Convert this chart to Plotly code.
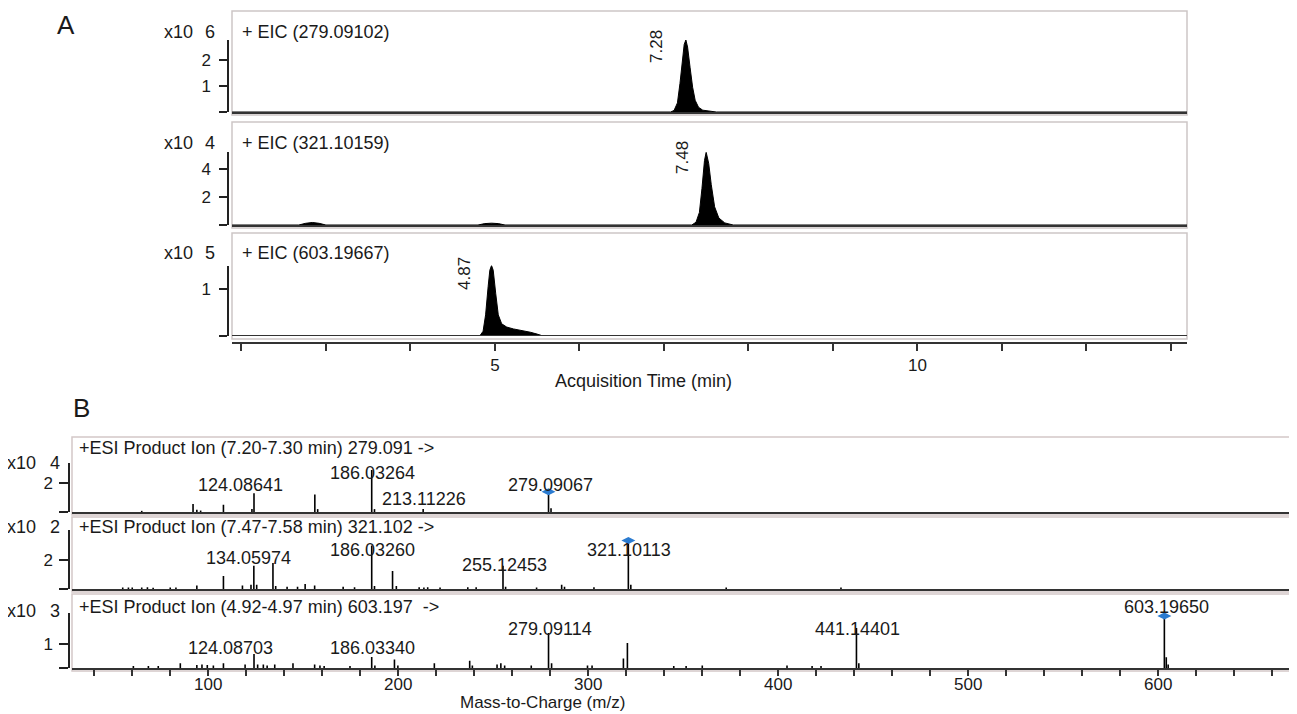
import plotly.graph_objects as go

# ---------------- DATA ----------------
# Panel A: extracted ion chromatograms (intensity in units of 10^exp)
eic_titles = ["+ EIC (279.09102)", "+ EIC (321.10159)", "+ EIC (603.19667)"]
eic_exponents = ["6", "4", "5"]
eic_rt_labels = ["7.28", "7.48", "4.87"]

eic1_time = [1.89, 7.08, 7.12, 7.16, 7.19, 7.22, 7.24, 7.26, 7.28, 7.31, 7.34, 7.37, 7.41, 7.46, 7.54, 7.62, 13.19]
eic1_int = [0, 0, 0.06, 0.35, 1.1, 2.1, 2.6, 2.77, 2.5, 1.7, 0.95, 0.45, 0.18, 0.07, 0.03, 0, 0]

eic2_time = [1.89, 2.68, 2.76, 2.84, 2.92, 3.0, 4.80, 4.88, 4.96, 5.04, 5.12,
             7.33, 7.38, 7.42, 7.45, 7.48, 7.50, 7.53, 7.56, 7.60, 7.65, 7.72, 7.82, 13.19]
eic2_int = [0, 0, 0.12, 0.18, 0.12, 0, 0, 0.1, 0.13, 0.1, 0,
            0, 0.2, 0.9, 2.6, 4.6, 5.2, 4.4, 2.9, 1.3, 0.5, 0.15, 0, 0]

eic3_time = [1.89, 4.82, 4.86, 4.89, 4.92, 4.94, 4.96, 4.98, 5.01, 5.04, 5.08, 5.14, 5.22, 5.32, 5.42, 5.50, 5.57, 13.19]
eic3_int = [0, 0, 0.1, 0.45, 1.05, 1.4, 1.5, 1.4, 0.9, 0.45, 0.26, 0.19, 0.15, 0.12, 0.08, 0.04, 0, 0]

eic_time = [eic1_time, eic2_time, eic3_time]
eic_int = [eic1_int, eic2_int, eic3_int]

eic_ymax = [2.77, 5.2, 1.5]
eic_yticks = [[0, 1, 2], [0, 2, 4], [0, 1]]

time_ticks = list(range(2, 14))
time_tick_labels = {5: "5", 10: "10"}

# Panel B: product ion spectra (intensity in units of 10^exp)
ms_titles = ["+ESI Product Ion (7.20-7.30 min) 279.091 ->",
             "+ESI Product Ion (7.47-7.58 min) 321.102 ->",
             "+ESI Product Ion (4.92-4.97 min) 603.197  ->"]
ms_exponents = ["4", "2", "3"]

ms1_mz = [65.0, 92.0, 94.0, 96.0, 108.0, 123.0, 124.08641, 156.1, 157.6, 186.03264, 187.5, 213.11226, 279.09067, 280.4]
ms1_int = [0.08, 0.55, 0.15, 0.1, 0.5, 0.2, 1.3, 1.2, 0.2, 2.9, 0.2, 0.2, 1.4, 0.25]

ms2_mz = [55, 58, 60, 65, 68, 71, 80, 83, 94, 108, 118, 122.5, 124.0, 125.5, 134.05974, 135.5,
          141.5, 147, 151, 156, 171, 177, 186.03260, 187.5, 197, 199, 211, 213.5, 215.5, 222,
          236.6, 241, 255.12453, 256.5, 272.8, 286, 287.5, 303, 321.10113, 322.4, 372.6, 433]
ms2_int = [0.1, 0.1, 0.1, 0.1, 0.12, 0.08, 0.1, 0.1, 0.25, 0.9, 0.25, 0.3, 1.6, 0.3, 1.8, 0.2,
           0.15, 0.15, 0.35, 0.25, 0.15, 0.12, 3.0, 0.2, 1.25, 0.2, 0.12, 0.1, 0.12, 0.1,
           0.12, 0.12, 1.6, 0.15, 0.1, 0.3, 0.15, 0.12, 3.35, 0.3, 0.1, 0.1]

ms3_mz = [60.6, 68.5, 73.7, 85.3, 94, 96.7, 99.5, 102.7, 108, 119.4, 124.08703, 126, 129, 131, 135,
          144.6, 156, 158.8, 161, 174.6, 186.03340, 187.7, 198, 199.8, 219, 237.6, 239, 252, 254, 256,
          270, 279.09114, 280.7, 299.6, 302, 318.5, 320.6, 345, 351.5, 360, 404.6, 417.8, 422.5,
          441.14401, 442.4, 603.19650, 604.2, 605.2]
ms3_int = [0.08, 0.08, 0.08, 0.2, 0.12, 0.15, 0.12, 0.1, 0.2, 0.15, 0.58, 0.15, 0.15, 0.1, 0.15,
           0.2, 0.15, 0.1, 0.08, 0.08, 0.46, 0.1, 0.35, 0.1, 0.2, 0.3, 0.1, 0.15, 0.2, 0.1,
           0.1, 1.46, 0.2, 0.1, 0.1, 0.4, 1.04, 0.08, 0.08, 0.1, 0.1, 0.08, 0.08,
           1.67, 0.2, 2.17, 0.45, 0.15]

ms_mz = [ms1_mz, ms2_mz, ms3_mz]
ms_int = [ms1_int, ms2_int, ms3_int]

precursor_mz = [279.09067, 321.10113, 603.19650]
precursor_int = [1.4, 3.35, 2.17]

ms_peak_labels = [["124.08641", "186.03264", "213.11226", "279.09067"],
                  ["134.05974", "186.03260", "255.12453", "321.10113"],
                  ["124.08703", "186.03340", "279.09114", "441.14401", "603.19650"]]

ms_ymax = [3.4, 4.1, 2.3]
ms_yticks = [[0, 2], [0, 2], [0, 1]]

mz_ticks = list(range(40, 680, 20))
mz_tick_labels = {100: "100", 200: "200", 300: "300", 400: "400", 500: "500", 600: "600"}

# ---------------- LAYOUT CONSTANTS (pixels of the 1297x714 page) ----------------
OFF = 8                      # default page margin of the html body
W, H = 1297 - OFF, 714 - OFF
FONT = "Liberation Sans, Arial, Helvetica, sans-serif"
TXT = "#1a1a1a"


def pxx(p):
    return (p - OFF) / W


def pyy(p):
    return 1 - (p - OFF) / H


A_left, A_right, A_spine = 232, 1187, 228
A_base = [112, 225, 336]
A_top = [11, 122, 233]
A_scale = [26, 14, 47]
A_title_y = [32, 143, 253]
A_rt_pos = [(656, 47), (683, 158), (464, 274)]
A_axis_y = 343

B_left, B_right, B_spine = 72, 1297, 69
B_base = [512, 589, 668]
B_top = [437, 517, 594]
B_scale = [14.5, 14.5, 24]
B_title_y = [448, 527, 607]
B_exp_y = [463, 527, 611]
B_label_pos = [[(240, 485), (373, 473), (424, 499), (550, 485)],
               [(248, 558), (373, 550), (504, 565), (629, 550)],
               [(230, 648), (373, 648), (550, 629), (857, 629), (1166, 607)]]

A_xrange = [1.889, 13.19]
B_xrange = [28.3, 673.0]

fig = go.Figure()
shapes = []
annotations = []
layout = {}


def ax_name(kind, i):
    return kind + ("" if i == 1 else str(i))


def text_ann(x, y, text, size=18, xanchor="center", yanchor="middle", angle=0):
    return dict(x=pxx(x), y=pyy(y), xref="paper", yref="paper", text=text, showarrow=False,
                xanchor=xanchor, yanchor=yanchor, textangle=angle,
                font=dict(family=FONT, size=size, color=TXT))


# ---- Panel A ----
for k in range(3):
    i = k + 1
    xa, ya = ax_name("x", i), ax_name("y", i)
    fig.add_trace(go.Scatter(x=eic_time[k], y=eic_int[k], mode="lines", fill="tozeroy",
                             fillcolor="black", line=dict(color="black", width=1),
                             xaxis=xa, yaxis=ya, hoverinfo="skip", showlegend=False))
    base, ymax, sc = A_base[k], eic_ymax[k], A_scale[k]
    ydom = [pyy(base), pyy(base - ymax * sc)]
    xdict = dict(domain=[pxx(A_left), pxx(A_right)], range=A_xrange, showgrid=False,
                 zeroline=False, showline=True, linecolor="#333", linewidth=2,
                 ticks="", showticklabels=False, anchor=ya)
    if k == 2:
        xdict.update(anchor="free", position=pyy(A_axis_y), ticks="outside", ticklen=7,
                     tickwidth=1.5, tickcolor="#333", showticklabels=True,
                     tickvals=time_ticks,
                     ticktext=[time_tick_labels.get(t, "") for t in time_ticks],
                     tickfont=dict(family=FONT, size=17, color=TXT))
        shapes.append(dict(type="line", xref=xa + " domain", yref=ya, x0=0, x1=1, y0=0, y1=0,
                           line=dict(color="#333", width=2)))
    layout[ax_name("xaxis", i)] = xdict
    layout[ax_name("yaxis", i)] = dict(domain=ydom, range=[0, ymax], anchor="free",
                                       position=pxx(A_spine), showline=True, linecolor="#222",
                                       linewidth=1.5, ticks="outside", ticklen=8, tickwidth=1.5,
                                       tickcolor="#222", showgrid=False, zeroline=False,
                                       ticklabelstandoff=5,
                                       tickvals=eic_yticks[k],
                                       ticktext=["" if v == 0 else str(v) for v in eic_yticks[k]],
                                       tickfont=dict(family=FONT, size=17, color=TXT))
    shapes.append(dict(type="rect", xref="paper", yref="paper", x0=pxx(A_left), x1=pxx(A_right),
                       y0=pyy(base + 3), y1=pyy(A_top[k]), line=dict(color="#cdc6c6", width=1.5),
                       layer="below"))
    annotations.append(text_ann(240, A_title_y[k], eic_titles[k], xanchor="left"))
    annotations.append(text_ann(178, A_title_y[k], "x10"))
    annotations.append(text_ann(210, A_title_y[k], eic_exponents[k]))
    rx, ry = A_rt_pos[k]
    annotations.append(text_ann(rx, ry, eic_rt_labels[k], size=17, angle=-90))

annotations.append(text_ann(643, 381, "Acquisition Time (min)"))

# ---- Panel B ----
for k in range(3):
    i = k + 4
    xa, ya = ax_name("x", i), ax_name("y", i)
    xs, ys = [], []
    for m, v in zip(ms_mz[k], ms_int[k]):
        xs += [m, m, None]
        ys += [0, v, None]
    fig.add_trace(go.Scatter(x=xs, y=ys, mode="lines", line=dict(color="black", width=1.6),
                             xaxis=xa, yaxis=ya, hoverinfo="skip", showlegend=False))
    fig.add_trace(go.Scatter(x=[precursor_mz[k]], y=[precursor_int[k]], mode="markers",
                             marker=dict(symbol="diamond-wide", size=10, color="#2b7bd0"),
                             xaxis=xa, yaxis=ya, hoverinfo="skip", showlegend=False,
                             cliponaxis=False))
    base, ymax, sc = B_base[k], ms_ymax[k], B_scale[k]
    ydom = [pyy(base), pyy(base - ymax * sc)]
    xdict = dict(domain=[pxx(B_left), pxx(B_right)], range=B_xrange, showgrid=False,
                 zeroline=False, showline=True, linecolor="#333", linewidth=2,
                 ticks="", showticklabels=False, anchor=ya)
    if k == 2:
        xdict.update(ticks="outside", ticklen=6, tickwidth=1.5, tickcolor="#333",
                     showticklabels=True, tickvals=mz_ticks, ticklabelstandoff=-6,
                     ticktext=[mz_tick_labels.get(t, "") for t in mz_ticks],
                     tickfont=dict(family=FONT, size=17, color=TXT))
    layout[ax_name("xaxis", i)] = xdict
    layout[ax_name("yaxis", i)] = dict(domain=ydom, range=[0, ymax], anchor="free",
                                       position=pxx(B_spine), showline=True, linecolor="#222",
                                       linewidth=1.5, ticks="outside", ticklen=9, tickwidth=1.5,
                                       tickcolor="#222", showgrid=False, zeroline=False,
                                       ticklabelstandoff=3,
                                       tickvals=ms_yticks[k],
                                       ticktext=["" if v == 0 else str(v) for v in ms_yticks[k]],
                                       tickfont=dict(family=FONT, size=17, color=TXT))
    shapes.append(dict(type="rect", xref="paper", yref="paper", x0=pxx(B_left), x1=1.01,
                       y0=pyy(base + 3), y1=pyy(B_top[k]), line=dict(color="#d3c8c8", width=1.5),
                       layer="below"))
    annotations.append(text_ann(77, B_title_y[k], ms_titles[k], xanchor="left"))
    annotations.append(text_ann(21, B_exp_y[k], "x10"))
    annotations.append(text_ann(55, B_exp_y[k], ms_exponents[k]))
    for lab, (lx, ly) in zip(ms_peak_labels[k], B_label_pos[k]):
        annotations.append(text_ann(lx, ly, lab))

annotations.append(text_ann(542, 714, "Mass-to-Charge (m/z)", size=17, yanchor="bottom"))
annotations.append(text_ann(66, 8, "A", size=26, yanchor="top"))
annotations.append(text_ann(81, 408, "B", size=26))

fig.update_layout(width=W, height=H, margin=dict(l=0, r=0, t=0, b=0),
                  paper_bgcolor="white", plot_bgcolor="rgba(0,0,0,0)",
                  showlegend=False, shapes=shapes, annotations=annotations, **layout)

fig.write_html("out.html")
